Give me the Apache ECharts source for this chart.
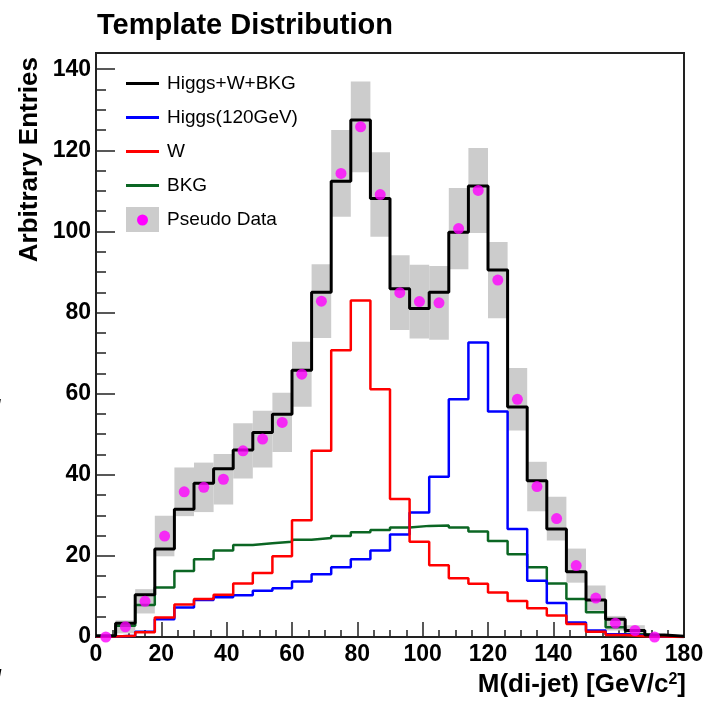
<!DOCTYPE html>
<html lang="en">
<head>
    <meta charset="UTF-8">
    <title>Template Distribution</title>
    <script src="https://cdn.jsdelivr.net/npm/echarts@6/dist/echarts.min.js"></script>
    <style>
        html, body { margin: 0; padding: 0; background: #fff; }
        #main { width: 707px; height: 701px; }
    </style>
</head>
<body>
    <div id="main"></div>
</body>
</html>
<script type="text/javascript">
    // bin edges of M(di-jet), 6 GeV bins
    var binEdges = [0, 6, 12, 18, 24, 30, 36, 42, 48, 54, 60, 66, 72, 78, 84, 90, 96, 102,
        108, 114, 120, 126, 132, 138, 144, 150, 156, 162, 168, 174, 180];
    var binCenters = [3, 9, 15, 21, 27, 33, 39, 45, 51, 57, 63, 69, 75, 81, 87, 93, 99, 105,
        111, 117, 123, 129, 135, 141, 147, 153, 159, 165, 171, 177];

    // template contents per bin
    var totalHist = [0.3, 3.4, 10.4, 21.7, 31.5, 37.9, 41.5, 46.1, 50.4, 54.9, 65.8, 85.0, 112.4, 127.5, 108.1,
        85.9, 81.0, 85.0, 99.8, 111.2, 90.5, 56.7, 38.5, 26.6, 16.1, 9.1, 4.4, 1.6, 0.5, 0.2];
    var higgsHist = [0.1, 0.3, 1.3, 4.4, 7.3, 9.1, 9.8, 10.3, 11.4, 12.0, 13.7, 15.5, 17.2, 19.2, 21.3,
        25.3, 30.7, 39.5, 58.6, 72.6, 55.6, 26.6, 13.9, 8.4, 3.6, 1.6, 0.7, 0.3, 0.1, 0.0];
    var wHist = [0.1, 0.3, 1.2, 4.8, 8.0, 9.4, 10.4, 13.2, 15.8, 19.9, 28.8, 45.9, 70.7, 83.0, 61.1,
        34.0, 23.5, 17.7, 14.5, 13.1, 11.0, 8.9, 7.1, 5.3, 3.2, 1.3, 0.5, 0.2, 0.1, 0.0];
    var bkgHist = [0.1, 2.8, 7.9, 12.2, 16.3, 19.2, 21.3, 22.7, 23.1, 23.5, 24.0, 24.4, 24.9, 25.8, 26.4,
        27.0, 27.4, 27.5, 27.0, 26.0, 23.7, 20.4, 17.2, 13.2, 9.4, 6.1, 2.4, 0.7, 0.3, 0.1];

    // pseudo data and its error (grey band)
    var pseudoData = [0.0, 2.5, 8.8, 24.9, 35.8, 36.9, 38.9, 45.9, 48.8, 52.9, 64.8, 82.8, 114.3, 125.8, 109.1,
        84.9, 82.7, 82.4, 100.7, 110.1, 88.0, 58.6, 37.1, 29.2, 17.6, 9.6, 3.4, 1.6, 0.0, null];
    var pseudoErr = [0.0, 1.6, 3.0, 5.0, 6.0, 6.1, 6.2, 6.8, 7.0, 7.3, 8.0, 9.1, 10.7, 11.2, 10.4,
        9.2, 9.1, 9.1, 10.0, 10.5, 9.4, 7.7, 6.1, 5.4, 4.2, 3.1, 1.8, 1.3, 0.0, 0.0];

    var yTicks = [0, 20, 40, 60, 80, 100, 120, 140];

    var FONT = "'Liberation Sans', Arial, Helvetica, sans-serif";
    // thin line inside a 33x25 box for the legend
    var LINE_ICON = 'path://M0,0 M0,11 L33,11 L33,14 L0,14 Z M33,25';

    // histogram -> step outline points
    function steps(vals) {
        var pts = [];
        for (var i = 0; i < vals.length; i++) {
            pts.push([binEdges[i], vals[i]]);
            pts.push([binEdges[i + 1], vals[i]]);
        }
        return pts;
    }

    var boxData = [];
    var dotData = [];
    for (var i = 0; i < pseudoData.length; i++) {
        if (pseudoData[i] === null) continue;
        boxData.push([binEdges[i], binEdges[i + 1], pseudoData[i], pseudoErr[i]]);
        dotData.push([binCenters[i], pseudoData[i]]);
    }

    var myChart = echarts.init(document.getElementById('main'), null, { renderer: 'canvas' });

    var option = {
        animation: false,
        backgroundColor: '#fff',
        textStyle: { fontFamily: FONT },
        title: {
            text: 'Template Distribution',
            left: 97,
            top: 11,
            padding: 0,
            textStyle: { fontSize: 29, fontWeight: 'bold', color: '#000', fontFamily: FONT }
        },
        grid: {
            left: 96, right: 23, top: 53, bottom: 64,
            show: true,
            borderColor: '#222',
            borderWidth: 2,
            backgroundColor: 'transparent'
        },
        legend: {
            orient: 'vertical',
            left: 126,
            top: 71,
            itemWidth: 33,
            itemHeight: 25,
            itemGap: 9,
            padding: 0,
            selectedMode: false,
            textStyle: { fontSize: 19, color: '#000', fontFamily: FONT, lineHeight: 25, padding: [0, 0, 0, 3] },
            data: [
                { name: 'Higgs+W+BKG', icon: LINE_ICON, itemStyle: { color: '#000000', borderWidth: 0 } },
                { name: 'Higgs(120GeV)', icon: LINE_ICON, itemStyle: { color: '#0000ff', borderWidth: 0 } },
                { name: 'W', icon: LINE_ICON, itemStyle: { color: '#ff0000', borderWidth: 0 } },
                { name: 'BKG', icon: LINE_ICON, itemStyle: { color: '#0b6623', borderWidth: 0 } },
                { name: 'Pseudo Data', icon: 'rect', itemStyle: { color: '#cccccc', borderWidth: 0 } }
            ]
        },
        xAxis: {
            type: 'value',
            min: 0,
            max: 180,
            interval: 20,
            axisLine: { show: true, onZero: false, lineStyle: { color: '#222', width: 2 } },
            axisTick: { show: true, inside: true, length: 15, lineStyle: { color: '#222', width: 1.5 } },
            minorTick: { show: true, splitNumber: 4, length: 7, lineStyle: { color: '#222', width: 1.5 } },
            axisLabel: { fontSize: 23, fontWeight: 'bold', color: '#000', margin: 6, fontFamily: FONT },
            splitLine: { show: false },
            minorSplitLine: { show: false }
        },
        yAxis: [
            {
                type: 'value',
                min: 0,
                max: 144,
                interval: 20,
                axisLine: { show: true, onZero: false, lineStyle: { color: '#222', width: 2 } },
                axisTick: { show: true, inside: true, length: 19, lineStyle: { color: '#222', width: 1.5 } },
                axisLabel: {
                    fontSize: 23, fontWeight: 'bold', color: '#000', margin: 5, fontFamily: FONT,
                    formatter: function (v) { return yTicks.indexOf(v) >= 0 ? String(v) : ''; }
                },
                splitLine: { show: false }
            },
            {
                type: 'value',
                position: 'left',
                min: 0,
                max: 144,
                interval: 5,
                axisLine: { show: false },
                axisTick: { show: true, inside: true, length: 10, lineStyle: { color: '#222', width: 1.5 } },
                axisLabel: { show: false },
                splitLine: { show: false }
            }
        ],
        series: [
            {
                name: 'Pseudo Data',
                type: 'custom',
                z: 1,
                data: boxData,
                encode: { x: [0, 1], y: 2 },
                renderItem: function (params, api) {
                    var lo = api.value(0), hi = api.value(1), v = api.value(2), e = api.value(3);
                    var p1 = api.coord([lo, v + e]);
                    var p2 = api.coord([hi, v - e]);
                    return {
                        type: 'rect',
                        shape: { x: p1[0], y: p1[1], width: p2[0] - p1[0], height: p2[1] - p1[1] },
                        style: { fill: '#cccccc' }
                    };
                }
            },
            {
                name: 'BKG', type: 'line', data: steps(bkgHist), symbol: 'none', z: 3,
                color: '#0b6623', lineStyle: { color: '#0b6623', width: 2.5 }
            },
            {
                name: 'Higgs(120GeV)', type: 'line', data: steps(higgsHist), symbol: 'none', z: 4,
                color: '#0000ff', lineStyle: { color: '#0000ff', width: 2.5 }
            },
            {
                name: 'W', type: 'line', data: steps(wHist), symbol: 'none', z: 5,
                color: '#ff0000', lineStyle: { color: '#ff0000', width: 2.5 }
            },
            {
                name: 'Higgs+W+BKG', type: 'line', data: steps(totalHist), symbol: 'none', z: 6,
                color: '#000000', lineStyle: { color: '#000000', width: 3 }
            },
            {
                name: 'Pseudo Data', type: 'scatter', data: dotData, z: 7,
                symbol: 'circle', symbolSize: 11,
                itemStyle: { color: '#ff00ff' }
            }
        ],
        graphic: [
            // magenta marker on the Pseudo Data legend box
            { type: 'circle', shape: { cx: 142.5, cy: 220, r: 5.5 }, style: { fill: '#ff00ff' }, z: 100 },
            {
                type: 'text', x: 30, y: 57, rotation: Math.PI / 2,
                style: {
                    text: 'Arbitrary Entries', fontSize: 26, fontWeight: 'bold', fontFamily: FONT,
                    fill: '#000', align: 'right', verticalAlign: 'middle'
                }
            },
            {
                type: 'text', x: 686, y: 685,
                style: {
                    text: '{a|M(di-jet) [GeV/c}{s|2}{a|]}',
                    align: 'right', verticalAlign: 'middle',
                    rich: {
                        a: { fontSize: 26, fontWeight: 'bold', fontFamily: FONT, fill: '#000', verticalAlign: 'bottom' },
                        s: { fontSize: 16, fontWeight: 'bold', fontFamily: FONT, fill: '#000', verticalAlign: 'top', padding: [0, 0, 10, 0] }
                    }
                }
            },
            // clipped glyph fragments at the left edge
            { type: 'text', x: -5, y: 398, style: { text: '/', fontSize: 22, fontWeight: 'bold', fontFamily: FONT, fill: '#000' } },
            { type: 'text', x: -5, y: 668, style: { text: '/', fontSize: 24, fontWeight: 'bold', fontFamily: FONT, fill: '#000' } }
        ]
    };

    myChart.setOption(option);
</script>
